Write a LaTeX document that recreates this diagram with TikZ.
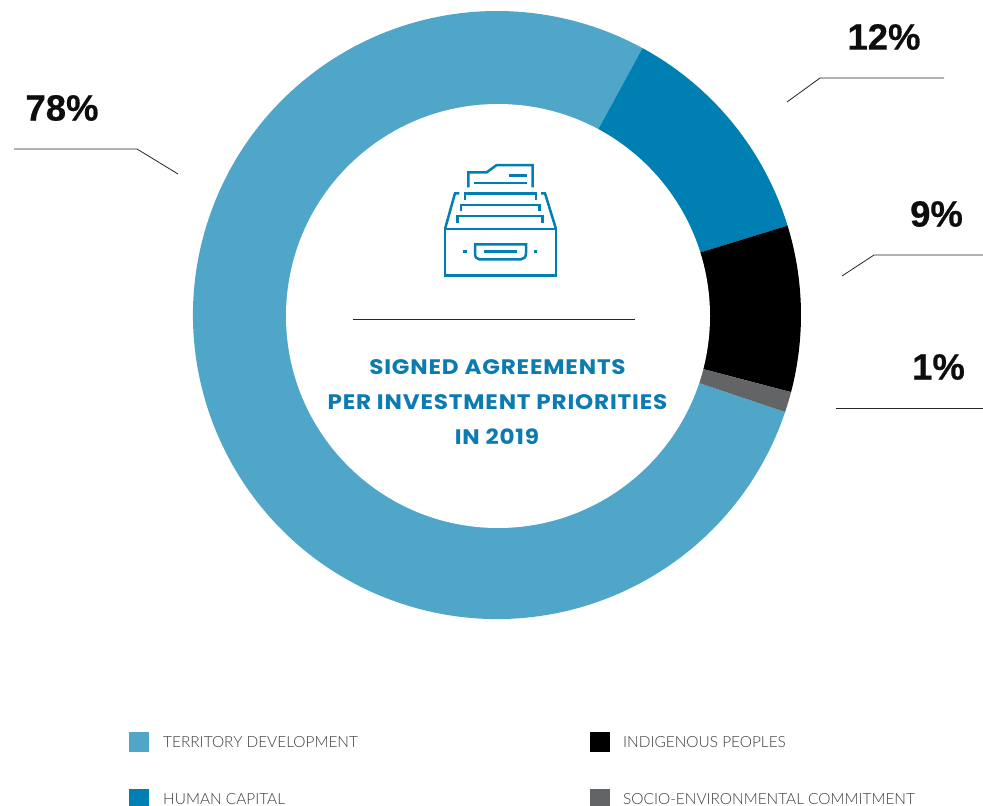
\documentclass[tikz,border=0pt]{standalone}
\usepackage{fontspec}
\setmainfont{Liberation Sans}
\newfontfamily\legendfont{Lato Light}
\newfontfamily\titlefont{Poppins}[FakeStretch=1.1,LetterSpace=4]
\newfontfamily\pctfont{Liberation Sans Bold}[FakeBold=0.5]
\definecolor{lightblue}{HTML}{4FA6C9}
\definecolor{midblue}{HTML}{0080B2}
\definecolor{slate}{HTML}{636466}
\definecolor{titleblue}{HTML}{0B7BB2}
\definecolor{legendtext}{HTML}{3C3C3C}
\tikzset{
  leader/.style={draw=black!85,line width=0.8pt,line join=miter},
  pct/.style={font=\pctfont\fontsize{36.5}{36.5}\selectfont,text=black!95,inner sep=0pt,anchor=center},
  title/.style={font=\titlefont\bfseries\fontsize{21}{21}\selectfont,text=titleblue,inner sep=0pt,anchor=center},
  swatch/.style={minimum width=20pt,minimum height=20pt,inner sep=0pt,draw=none,anchor=north west},
  legendlabel/.style={font=\legendfont\fontsize{15.4}{15.4}\selectfont,text=legendtext,inner sep=0pt,anchor=west},
  icon/.style={draw=midblue,line width=2.5pt,line join=miter,line cap=butt}
}
\newcommand{\sector}[3]{\fill[#1] (0,0) -- (-#2:304) arc[start angle=-#2,end angle=-#3,radius=304] -- cycle;}
\begin{document}
\begin{tikzpicture}[x=1pt,y=-1pt]
\path[use as bounding box,fill=white] (0,0) rectangle (983,806);
\begin{scope}[shift={(497,315)}]
\sector{lightblue}{-18.6}{-298.6}
\sector{midblue}{61.4}{17.1}
\sector{black}{17.1}{-14.7}
\sector{slate}{-14.7}{-18.6}
\end{scope}
\fill[white] (498,316) circle[radius=212];
% icon
\draw[icon] (445,229) rectangle (556,275.7);
\draw[icon] (445,229) -- (455,193.3) -- (459.3,193.3);
\draw[icon] (556,229) -- (545,193.3) -- (541,193.3);
\draw[icon] (465,200) -- (465,193.3) -- (536,193.3) -- (536,200);
\draw[icon] (461,211) -- (461,205) -- (539.3,205) -- (539.3,211);
\draw[icon] (457.3,223.3) -- (457.3,216) -- (542.7,216) -- (542.7,223.3);
\draw[icon] (468.3,187.3) -- (468.3,172.3) -- (486.7,172.3) -- (496.7,165) -- (532.7,165) -- (532.7,187.3);
\draw[icon] (474.3,183) -- (526.7,183);
\draw[icon] (509.3,175.7) -- (526.7,175.7);
\draw[icon] (475,244.3) -- (526,244.3) -- (526,253) .. controls (526,257) and (524,259.3) .. (521,259.3) -- (479.3,259.3) .. controls (476.5,259.3) and (475,257) .. (475,253) -- cycle;
\draw[icon] (484.3,251.7) -- (516.7,251.7);
\draw[icon] (463.3,251.7) -- (466.7,251.7);
\draw[icon] (534,251.7) -- (537.3,251.7);
% centre
\coordinate (ruleL) at (353,319.5);
\coordinate (ruleR) at (635,319.5);
\draw[leader] (ruleL) -- (ruleR);
\node[title] (t1) at (497.5,367) {SIGNED AGREEMENTS};
\node[title] (t2) at (497.5,402) {PER INVESTMENT PRIORITIES};
\node[title] (t3) at (497,437) {IN 2019};
% percentages
\node[pct] (p78) at (62,108) {78\%};
\node[pct] (p12) at (884,37) {12\%};
\node[pct] (p9) at (936.5,214) {9\%};
\node[pct] (p1) at (938.5,367) {1\%};
\coordinate (a1) at (14,149);
\coordinate (a2) at (137,149);
\coordinate (a3) at (178,174);
\draw[leader] (a1) -- (a2) -- (a3);
\coordinate (b1) at (787,102);
\coordinate (b2) at (820,78);
\coordinate (b3) at (944,78);
\draw[leader] (b1) -- (b2) -- (b3);
\coordinate (c1) at (842,276);
\coordinate (c2) at (874,255);
\coordinate (c3) at (983,255);
\draw[leader] (c1) -- (c2) -- (c3);
\coordinate (d1) at (836,408.5);
\coordinate (d2) at (983,408.5);
\draw[leader] (d1) -- (d2);
% legend
\node[swatch,fill=lightblue] (s1) at (129,732) {};
\node[legendlabel] (l1) at (163,742) {TERRITORY DEVELOPMENT};
\node[swatch,fill=midblue] (s2) at (129,789) {};
\node[legendlabel] (l2) at (163,799.5) {HUMAN CAPITAL};
\node[swatch,fill=black] (s3) at (590,732) {};
\node[legendlabel] (l3) at (623,742) {INDIGENOUS PEOPLES};
\node[swatch,fill=slate] (s4) at (590,789) {};
\node[legendlabel] (l4) at (623,799.5) {SOCIO-ENVIRONMENTAL COMMITMENT};
\end{tikzpicture}
\end{document}
